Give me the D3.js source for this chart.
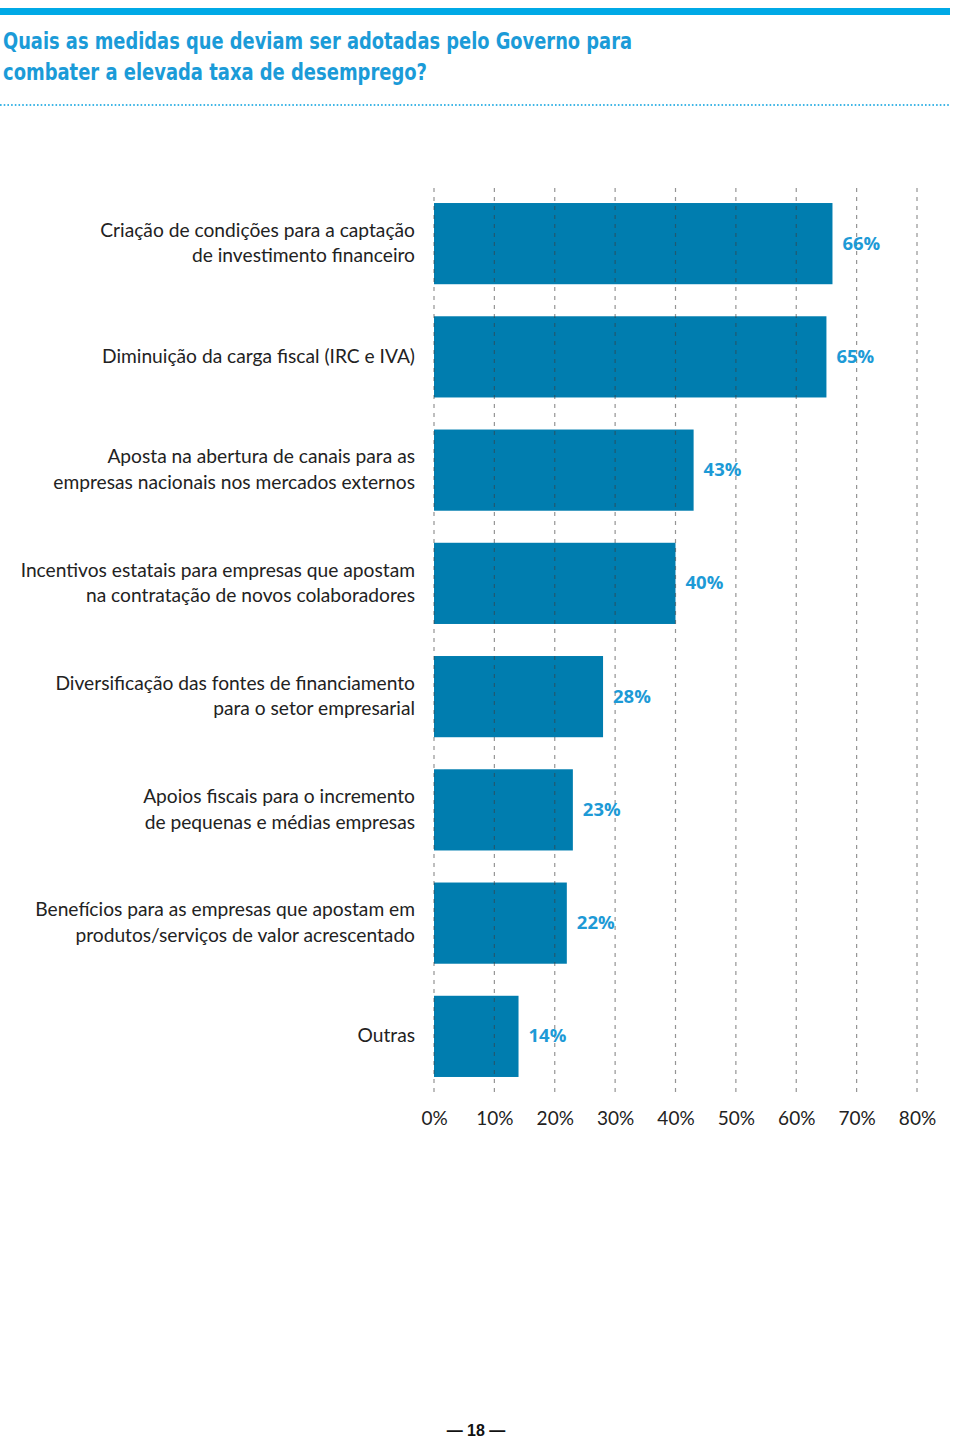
<!DOCTYPE html>
<html><head><meta charset="utf-8">
<script src="https://cdn.jsdelivr.net/npm/d3@7"></script>
<style>body{margin:0;background:#fff}svg{display:block}</style>
</head><body>
<svg id="c" width="960" height="1439"></svg>
<script>
const titleLines = ["Quais as medidas que deviam ser adotadas pelo Governo para","combater a elevada taxa de desemprego?"];
const categories = [
  ["Criação de condições para a captação","de investimento financeiro"],
  ["Diminuição da carga fiscal (IRC e IVA)"],
  ["Aposta na abertura de canais para as","empresas nacionais nos mercados externos"],
  ["Incentivos estatais para empresas que apostam","na contratação de novos colaboradores"],
  ["Diversificação das fontes de financiamento","para o setor empresarial"],
  ["Apoios fiscais para o incremento","de pequenas e médias empresas"],
  ["Benefícios para as empresas que apostam em","produtos/serviços de valor acrescentado"],
  ["Outras"]
];
const values = [66, 65, 43, 40, 28, 23, 22, 14];
const ticks = [0,10,20,30,40,50,60,70,80];
const pageNumber = "18";

const svg = d3.select("#c");
// top bar
svg.append("rect").attr("x",0).attr("y",8).attr("width",950).attr("height",7).attr("fill","#00a9e6");
// title
const tFont = "'Liberation Sans Narrow','DejaVu Sans Condensed',sans-serif";
svg.selectAll("text.title").data(titleLines).join("text")
  .attr("x",3).attr("y",(d,i)=>49+i*31)
  .attr("font-family",tFont).attr("font-weight","bold").attr("font-size",23)
  .attr("fill","#1b9bd8")
  .attr("textLength",(d,i)=>i===0?629:424).attr("lengthAdjust","spacingAndGlyphs")
  .text(d=>d);
// dotted line
svg.append("line").attr("x1",0).attr("x2",950).attr("y1",105).attr("y2",105)
  .attr("stroke","#3fb6e6").attr("stroke-width",2.2).attr("stroke-dasharray","1.6,2.1");

const x = d3.scaleLinear().domain([0,80]).range([434,917]);
const y = d3.scaleBand().domain(d3.range(values.length)).range([187,1093]).paddingInner(0.283).paddingOuter(0.1415);

const g = svg.append("g");
g.selectAll("rect.bar").data(values).join("rect")
  .attr("x",x(0)).attr("y",(d,i)=>y(i)).attr("width",d=>x(d)-x(0)).attr("height",y.bandwidth())
  .attr("fill","#007daf");

// gridlines on top
g.selectAll("line.grid").data(ticks).join("line")
  .attr("x1",d=>x(d)).attr("x2",d=>x(d)).attr("y1",188).attr("y2",1093)
  .attr("stroke","rgba(60,60,60,0.55)").attr("stroke-width",1.2).attr("stroke-dasharray","4,5");

// value labels
g.selectAll("text.val").data(values).join("text")
  .attr("x",d=>x(d)+10).attr("y",(d,i)=>y(i)+y.bandwidth()/2+6)
  .attr("font-family","'Open Sans',sans-serif").attr("font-weight","bold").attr("font-size",18.5)
  .attr("fill","#1d9ad6").text(d=>d+"%");

// category labels
const labFont = "Lato,'Open Sans',sans-serif";
categories.forEach((lines,i)=>{
  const cy = y(i)+y.bandwidth()/2;
  const n = lines.length;
  lines.forEach((ln,j)=>{
    g.append("text").attr("x",415).attr("y",cy+(j-(n-1)/2)*25.5+6)
      .attr("text-anchor","end").attr("font-family",labFont).attr("font-size",19.2)
      .attr("fill","#222").text(ln);
  });
});

// axis tick labels
const axis = d3.axisBottom(x).tickValues(ticks).tickFormat(d=>d+"%").tickSize(0).tickPadding(0);
const ax = svg.append("g").attr("transform","translate(0,1111)").call(axis);
ax.select(".domain").remove();
ax.selectAll("text").attr("font-family",labFont).attr("font-size",19).attr("fill","#222");

// page number
svg.append("text").attr("x",476).attr("y",1436).attr("text-anchor","middle")
  .attr("font-family","'Liberation Sans',Arial,sans-serif").attr("font-weight","bold").attr("font-size",16)
  .attr("fill","#111").text("— "+pageNumber+" —");
</script>
</body></html>
